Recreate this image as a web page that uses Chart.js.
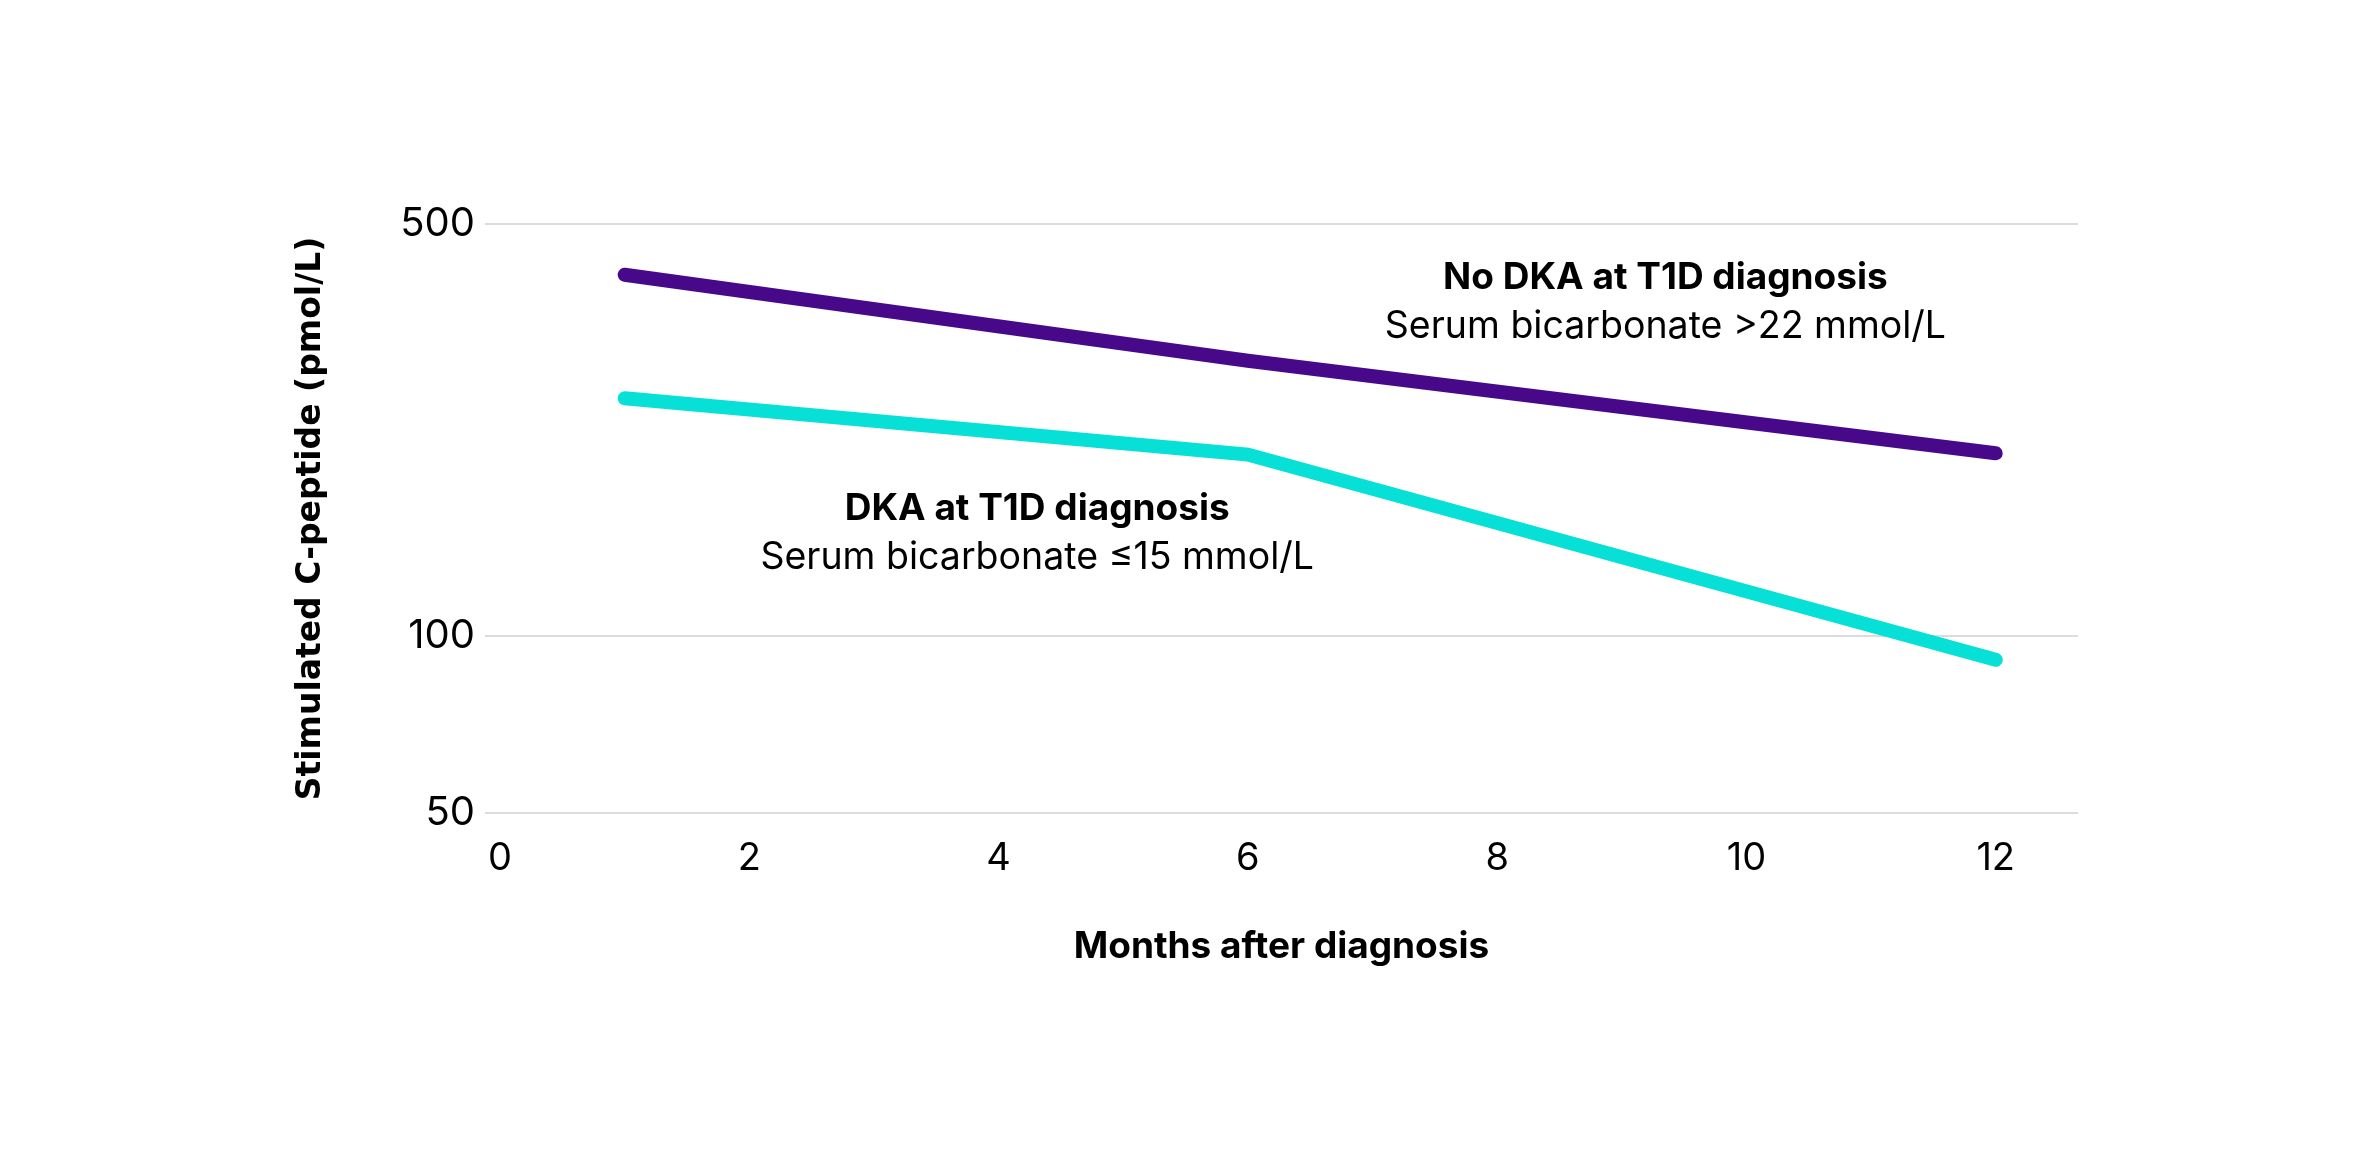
<!DOCTYPE html>
<html>
<head>
<meta charset="utf-8">
<script src="https://cdn.jsdelivr.net/npm/chart.js@4/dist/chart.umd.min.js"></script>
<style>
  html, body { margin: 0; padding: 0; background: #fff; }
  #wrap { width: 2375px; height: 1175px; }
</style>
</head>
<body>
<div id="wrap"><canvas id="chart" width="2375" height="1175"></canvas></div>
<script>
  // data
  var months = [1, 6, 12];
  var noDka = [410, 293, 204];
  var dka = [253, 203, 91];
  var xTicks = [0, 2, 4, 6, 8, 10, 12];
  var yTicks = [50, 100, 500];

  // text labels placed in data space (x in months, y in pmol/L)
  var labelTitles = ['No DKA at T1D diagnosis', 'DKA at T1D diagnosis'];
  var labelSubs = ['Serum bicarbonate >22 mmol/L', 'Serum bicarbonate \u226415 mmol/L'];
  var labelX = [9.35, 4.31];
  var labelY = [405, 164];

  var purple = '#48088a';
  var cyan = '#06e0d6';

  var seriesLabels = {
    id: 'seriesLabels',
    afterDatasetsDraw: function(chart) {
      var ctx = chart.ctx;
      var xs = chart.scales.x, ys = chart.scales.y;
      ctx.save();
      ctx.fillStyle = '#000';
      ctx.textAlign = 'center';
      ctx.textBaseline = 'middle';
      for (var i = 0; i < labelTitles.length; i++) {
        var px = xs.getPixelForValue(labelX[i]);
        var py = ys.getPixelForValue(labelY[i]);
        ctx.font = 'bold 37px Inter';
        ctx.fillText(labelTitles[i], px, py);
        ctx.font = '37.5px Inter';
        ctx.fillText(labelSubs[i], px, py + 49);
      }
      ctx.restore();
    }
  };

  var ctx = document.getElementById('chart').getContext('2d');
  var myChart = new Chart(ctx, {
    type: 'line',
    data: {
      datasets: [{
        label: 'No DKA',
        data: months.map(function(m, i) { return { x: m, y: noDka[i] }; }),
        borderColor: purple,
        borderWidth: 14,
        borderCapStyle: 'round',
        pointRadius: 0,
        tension: 0
      }, {
        label: 'DKA',
        data: months.map(function(m, i) { return { x: m, y: dka[i] }; }),
        borderColor: cyan,
        borderWidth: 14,
        borderCapStyle: 'round',
        pointRadius: 0,
        tension: 0
      }]
    },
    options: {
      responsive: false,
      animation: false,
      layout: { padding: { left: 290, right: 297, top: 224, bottom: 202 } },
      plugins: {
        legend: { display: false },
        tooltip: { enabled: false }
      },
      scales: {
        x: {
          type: 'linear',
          min: -0.12,
          max: 12.66,
          afterBuildTicks: function(scale) {
            scale.ticks = xTicks.map(function(v) { return { value: v }; });
          },
          afterFit: function(scale) { scale.height = 160; },
          grid: { display: false, drawTicks: false },
          border: { display: false },
          ticks: {
            color: '#000',
            padding: 23,
            maxRotation: 0,
            font: { family: 'Inter', size: 38 }
          },
          title: {
            display: true,
            text: 'Months after diagnosis',
            color: '#000',
            padding: 4,
            font: { family: 'Inter', size: 37, weight: 'bold' }
          }
        },
        y: {
          type: 'logarithmic',
          min: 50,
          max: 500,
          afterBuildTicks: function(scale) {
            scale.ticks = yTicks.map(function(v) { return { value: v }; });
          },
          afterFit: function(scale) { scale.width = 195; },
          grid: { color: '#dcdcdc', lineWidth: 2, drawTicks: false },
          border: { display: false },
          ticks: {
            color: '#000',
            padding: 10,
            font: { family: 'Inter', size: 40 },
            callback: function(v) { return String(v); }
          },
          title: {
            display: true,
            text: 'Stimulated C-peptide (pmol/L)',
            color: '#000',
            padding: 2,
            font: { family: 'DejaVu Sans', size: 33, weight: 'bold' }
          }
        }
      }
    },
    plugins: [seriesLabels]
  });
</script>
</body>
</html>
